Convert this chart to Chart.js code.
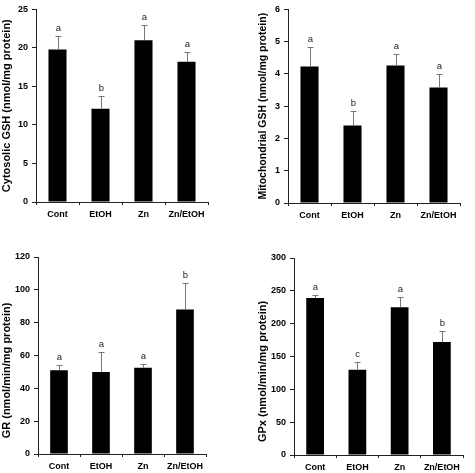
<!DOCTYPE html>
<html>
<head>
<meta charset="utf-8">
<script src="https://cdn.jsdelivr.net/npm/chart.js@4/dist/chart.umd.min.js"></script>
<style>
  html, body { margin: 0; padding: 0; background: #fff; }
  .panel { position: absolute; }
</style>
</head>
<body>
<div class="panel" style="left:0;top:0;width:237px;height:235px"><canvas id="cyto"></canvas></div>
<div class="panel" style="left:237px;top:0;width:238px;height:235px"><canvas id="mito"></canvas></div>
<div class="panel" style="left:0;top:235px;width:237px;height:238px"><canvas id="gr"></canvas></div>
<div class="panel" style="left:237px;top:235px;width:238px;height:238px"><canvas id="gpx"></canvas></div>
<script>
// groups on the x axis
const categories = ['Cont', 'EtOH', 'Zn', 'Zn/EtOH'];

// cytosolic GSH (nmol/mg protein)
const cytoMean = [19.8, 12.1, 21.0, 18.2];
const cytoErr = [1.7, 1.6, 2.0, 1.3];
const cytoLetters = ['a', 'b', 'a', 'a'];
const cytoTicks = [0, 5, 10, 15, 20, 25];

// mitochondrial GSH (nmol/mg protein)
const mitoMean = [4.23, 2.40, 4.26, 3.58];
const mitoErr = [0.61, 0.46, 0.37, 0.43];
const mitoLetters = ['a', 'b', 'a', 'a'];
const mitoTicks = [0, 1, 2, 3, 4, 5, 6];

// GR (nmol/min/mg protein)
const grMean = [51, 50, 52.5, 88];
const grErr = [3, 12, 2.5, 16];
const grLetters = ['a', 'a', 'a', 'b'];
const grTicks = [0, 20, 40, 60, 80, 100, 120];

// GPx (nmol/min/mg protein)
const gpxMean = [239, 130, 225, 172];
const gpxErr = [5, 11, 15, 17];
const gpxLetters = ['a', 'c', 'a', 'b'];
const gpxTicks = [0, 50, 100, 150, 200, 250, 300];

const FONT = '"Liberation Sans", Arial, Helvetica, sans-serif';

// upper whisker + significance letter over each bar
function errorPlugin(errs, letters) {
  return {
    id: 'errorBars',
    afterDatasetsDraw(chart) {
      const ctx = chart.ctx;
      const y = chart.scales.y;
      const vals = chart.data.datasets[0].data;
      ctx.save();
      chart.getDatasetMeta(0).data.forEach((bar, i) => {
        const x = Math.round(bar.x) + 0.5;
        const top = Math.round(y.getPixelForValue(vals[i] + errs[i])) + 0.5;
        ctx.strokeStyle = '#777';
        ctx.lineWidth = 1;
        ctx.beginPath();
        ctx.moveTo(x, bar.y);
        ctx.lineTo(x, top);
        ctx.moveTo(x - 3, top);
        ctx.lineTo(x + 3, top);
        ctx.stroke();
        ctx.fillStyle = '#222';
        ctx.font = '9.5px ' + FONT;
        ctx.textAlign = 'center';
        ctx.textBaseline = 'bottom';
        ctx.fillText(letters[i], x, top - 3);
      });
      ctx.restore();
    }
  };
}

// rotated y title, drawn by hand so it can sit off-centre like the original
function titlePlugin(text, x, dy, size) {
  return {
    id: 'yTitle',
    afterDraw(chart) {
      const ctx = chart.ctx;
      const a = chart.chartArea;
      ctx.save();
      ctx.translate(x, (a.top + a.bottom) / 2 + dy);
      ctx.rotate(-Math.PI / 2);
      ctx.font = 'bold ' + size + 'px ' + FONT;
      ctx.fillStyle = '#000';
      ctx.textAlign = 'center';
      ctx.textBaseline = 'middle';
      ctx.fillText(text, 0, 0);
      ctx.restore();
    }
  };
}

function makeChart(id, means, errs, letters, ticks, title, lay) {
  const step = ticks[1] - ticks[0];
  return new Chart(document.getElementById(id), {
    type: 'bar',
    data: {
      labels: categories,
      datasets: [{
        data: means,
        backgroundColor: '#000',
        borderWidth: 0,
        barPercentage: 0.42,
        categoryPercentage: 1
      }]
    },
    options: {
      responsive: true,
      maintainAspectRatio: false,
      animation: false,
      layout: { padding: { top: lay.top, right: lay.right, left: 0, bottom: 0 } },
      plugins: { legend: { display: false }, tooltip: { enabled: false } },
      scales: {
        x: {
          ticks: { color: '#000', font: { family: FONT, size: 9, weight: 'bold' }, padding: 4 },
          grid: { drawOnChartArea: false, tickLength: 3, color: '#222', offset: true },
          border: { color: '#222' },
          afterFit(s) { s.height = lay.xh; }
        },
        y: {
          min: ticks[0],
          max: ticks[ticks.length - 1],
          ticks: { stepSize: step, color: '#000', font: { family: FONT, size: 9, weight: 'bold' }, padding: 4 },
          grid: { drawOnChartArea: false, tickLength: 4, color: '#222' },
          border: { color: '#222' },
          afterFit(s) { s.width = lay.yw; }
        }
      }
    },
    plugins: [errorPlugin(errs, letters), titlePlugin(title, lay.tx, lay.dy, lay.ts)]
  });
}

makeChart('cyto', cytoMean, cytoErr, cytoLetters, cytoTicks,
  'Cytosolic GSH (nmol/mg protein)',
  { yw: 36, xh: 33, top: 4, right: 29, tx: 7, dy: 0, ts: 11 });
makeChart('mito', mitoMean, mitoErr, mitoLetters, mitoTicks,
  'Mitochondrial GSH (nmol/mg protein)',
  { yw: 51, xh: 32, top: 5, right: 15, tx: 26, dy: 0, ts: 10.5 });
makeChart('gr', grMean, grErr, grLetters, grTicks,
  'GR (nmol/min/mg protein)',
  { yw: 38, xh: 19, top: 22, right: 31, tx: 7, dy: 15, ts: 11 });
makeChart('gpx', gpxMean, gpxErr, gpxLetters, gpxTicks,
  'GPx (nmol/min/mg protein)',
  { yw: 57, xh: 18, top: 23, right: 12, tx: 26, dy: 15, ts: 11 });
</script>
</body>
</html>
